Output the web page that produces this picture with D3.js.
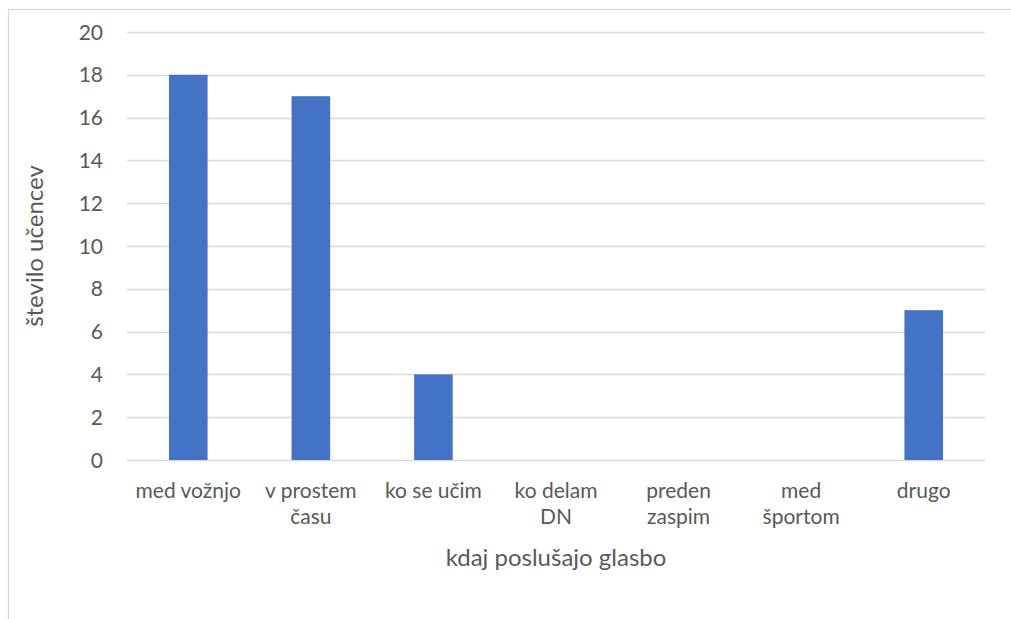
<!DOCTYPE html>
<html>
<head>
<meta charset="utf-8">
<script src="https://d3js.org/d3.v7.min.js"></script>
<style>
  body { margin:0; background:#fff; }
  svg { display:block; }
  text { font-family: Lato, "Open Sans", sans-serif; fill:#595959; }
</style>
</head>
<body>
<script>
var categories = ["med vožnjo", "v prostem\nčasu", "ko se učim", "ko delam\nDN", "preden\nzaspim", "med\nšportom", "drugo"];
var counts = [18, 17, 4, 0, 0, 0, 7];
var yTicks = [0, 2, 4, 6, 8, 10, 12, 14, 16, 18, 20];
var xTitle = "kdaj poslušajo glasbo";
var yTitle = "število učencev";

var width = 1011, height = 619;
var margin = {left: 127, right: 26, top: 32, bottom: 159};

var svg = d3.select("body").append("svg")
    .attr("width", width)
    .attr("height", height);

// chart frame
svg.append("rect")
    .attr("x", 8.5).attr("y", 9.5)
    .attr("width", width + 10).attr("height", height + 10)
    .attr("fill", "none")
    .attr("stroke", "#d9d9d9")
    .attr("stroke-width", 1.3);

var x = d3.scaleBand()
    .domain(categories)
    .range([margin.left, width - margin.right])
    .paddingInner(0.685)
    .paddingOuter(0.3425);

var y = d3.scaleLinear()
    .domain([0, 20])
    .range([height - margin.bottom, margin.top]);

// gridlines
svg.append("g")
    .selectAll("line")
    .data(yTicks)
  .enter().append("line")
    .attr("x1", margin.left)
    .attr("x2", width - margin.right)
    .attr("y1", function(d) { return Math.round(y(d)) + 0.5; })
    .attr("y2", function(d) { return Math.round(y(d)) + 0.5; })
    .attr("stroke", "#d9d9d9")
    .attr("stroke-width", 1.3);

// bars
svg.append("g")
    .selectAll("rect")
    .data(counts)
  .enter().append("rect")
    .attr("x", function(d, i) { return x(categories[i]); })
    .attr("width", x.bandwidth())
    .attr("y", function(d) { return y(d); })
    .attr("height", function(d) { return y(0) - y(d); })
    .attr("fill", "#4472c4");

// y tick labels
svg.append("g")
    .selectAll("text")
    .data(yTicks)
  .enter().append("text")
    .attr("x", 103)
    .attr("y", function(d) { return y(d); })
    .attr("dy", "0.36em")
    .attr("text-anchor", "end")
    .attr("font-size", 21)
    .text(function(d) { return d; });

// category labels
var cat = svg.append("g")
    .selectAll("text")
    .data(categories)
  .enter().append("text")
    .attr("text-anchor", "middle")
    .attr("font-size", 21)
    .attr("x", function(d) { return x(d) + x.bandwidth() / 2; })
    .attr("y", 498);

cat.selectAll("tspan")
    .data(function(d) { return d.split("\n"); })
  .enter().append("tspan")
    .attr("x", function() { return this.parentNode.getAttribute("x"); })
    .attr("dy", function(d, i) { return i ? 26 : 0; })
    .text(function(d) { return d; });

// axis titles
svg.append("text")
    .attr("x", (margin.left + width - margin.right) / 2)
    .attr("y", 566)
    .attr("text-anchor", "middle")
    .attr("font-size", 24)
    .text(xTitle);

svg.append("text")
    .attr("transform", "translate(43," + y(10) + ") rotate(-90)")
    .attr("text-anchor", "middle")
    .attr("font-size", 24)
    .text(yTitle);
</script>
</body>
</html>
